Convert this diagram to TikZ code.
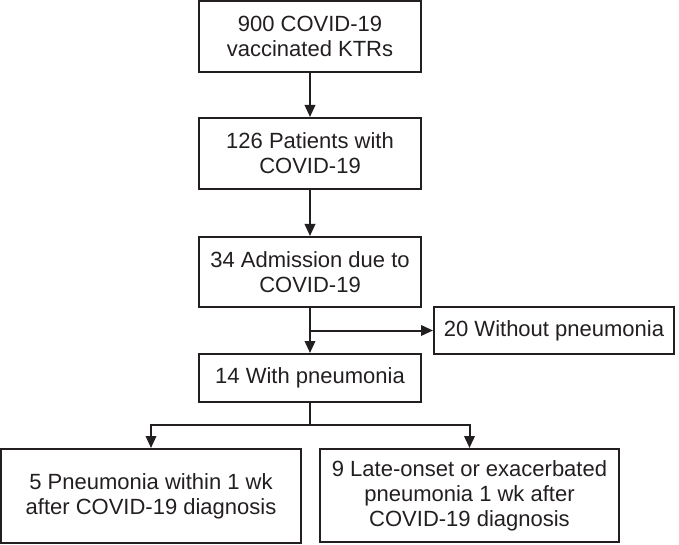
\documentclass[tikz,border=0pt]{standalone}
\usepackage{fontspec}
\setmainfont{Liberation Sans}
\usetikzlibrary{arrows.meta}
\definecolor{ink}{RGB}{35,31,32}
\begin{document}
\begin{tikzpicture}[x=1pt,y=-1pt,
  box/.style={draw=ink,line width=2pt,inner sep=0pt,align=center,text=ink,
    font=\fontsize{22}{25}\selectfont},
  arr/.style={draw=ink,line width=2pt,-{Triangle[length=12pt,width=10.5pt]}},
  ln/.style={draw=ink,line width=2pt}]
\useasboundingbox (0,0) rectangle (679,545);
\node[box,minimum width=222pt,minimum height=71pt] (b1) at (310,36.5) {900 COVID-19\\vaccinated KTRs};
\node[box,minimum width=222pt,minimum height=71pt] (b2) at (310,153.5) {126 Patients with\\COVID-19};
\node[box,minimum width=222pt,minimum height=70pt] (b3) at (310,272) {34 Admission due to\\COVID-19};
\node[box,minimum width=222pt,minimum height=48pt] (b4) at (310,378) {14 With pneumonia};
\node[box,minimum width=240pt,minimum height=47pt] (br) at (554,330.5) {20 Without pneumonia};
\node[box,minimum width=300pt,minimum height=94pt] (b5) at (151,496) {5 Pneumonia within 1 wk\\after COVID-19 diagnosis};
\node[box,minimum width=299pt,minimum height=93pt] (b6) at (469.5,495.5) {9 Late-onset or exacerbated\\pneumonia 1 wk after\\COVID-19 diagnosis};
\draw[arr] (b1) -- (b2);
\draw[arr] (b2) -- (b3);
\draw[arr] (b3) -- (b4);
\coordinate (sp1) at (b3.south |- br.west);
\draw[arr] (sp1) -- (br.west);
\coordinate (sp2) at (310,425);
\draw[ln] (b4.south) -- (sp2);
\draw[arr] (sp2) -| (b5.north);
\draw[arr] (sp2) -| (b6.north);
\end{tikzpicture}
\end{document}
